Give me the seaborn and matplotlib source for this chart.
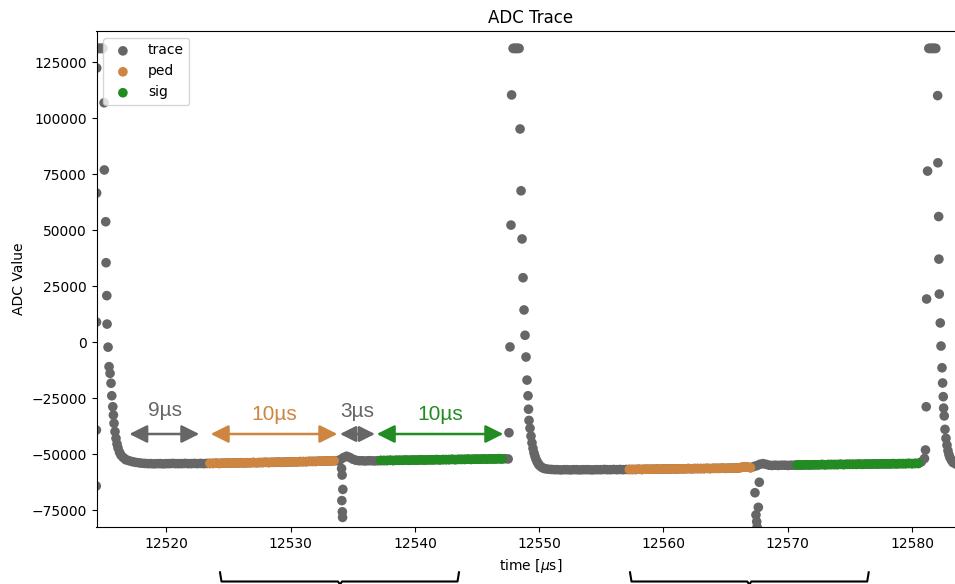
import numpy as np
import pandas as pd
import matplotlib
matplotlib.use("Agg")
import matplotlib.pyplot as plt
from matplotlib.lines import Line2D
import seaborn as sns

# ---------------- data (time in µs, ADC counts) ----------------
base_step = 0.25

pulse1_t = [12514.36, 12514.37, 12514.38, 12514.39, 12514.40,
            12514.50, 12514.58, 12514.66, 12514.74, 12514.82, 12514.90,
            12514.99, 12515.01, 12515.12, 12515.15, 12515.21, 12515.23, 12515.31,
            12515.39, 12515.47, 12515.55, 12515.61, 12515.69, 12515.74, 12515.79,
            12515.87, 12515.95, 12516.03, 12516.11, 12516.23, 12516.35, 12516.51, 12516.68]
pulse1_v = [-64300, -39300, 8900, 66500, 122300,
            131072, 131072, 131072, 131072, 131072, 131072,
            106800, 76800, 53700, 35400, 20700, 8000, -2300,
            -11000, -14000, -18400, -24000, -28900, -32600, -36300,
            -40000, -43000, -45500, -47300, -49200, -50500, -51500, -52200]

baseA_t0 = 12516.75
baseA_v = [-52600, -53000, -53400, -53700, -53900, -54100, -54200, -54300, -54300,
           -54400, -54300, -54300, -54400, -54300, -54300, -54200, -54300, -54300,
           -54300, -54200, -54300, -54300, -54200, -54300, -54200, -54300, -54200]

ped1_t0 = 12523.5
ped1_v = [-54200, -54200, -54100, -54200, -54100, -54100, -54000, -54100, -54000, -54000,
          -53900, -54000, -53900, -53900, -53800, -53900, -53800, -53800, -53700, -53800,
          -53700, -53700, -53600, -53700, -53600, -53600, -53500, -53500, -53500, -53400,
          -53400, -53400, -53300, -53300, -53300, -53200, -53200, -53100, -53100, -53100,
          -53000]

baseB_t0 = 12533.75
baseB_v = [-53000, -52500, -51600, -51000, -51500, -52300, -52800, -53000, -53000,
           -53100, -53000, -53000, -53100, -53000]

spike1_t = [12534.10, 12534.14, 12534.20, 12534.12, 12534.16, 12534.18]
spike1_v = [-56500, -59400, -65800, -70800, -75800, -78300]

sig1_t0 = 12537.25
sig1_v = [-52900, -52900, -52900, -52800, -52900, -52800, -52800, -52800, -52700, -52800,
          -52700, -52700, -52700, -52600, -52700, -52600, -52600, -52600, -52500, -52600,
          -52500, -52500, -52500, -52400, -52500, -52400, -52400, -52400, -52300, -52400,
          -52300, -52300, -52300, -52200, -52300, -52200, -52200, -52200, -52100, -52200]

baseC_t0 = 12547.25
baseC_v = [-52100, -52200]

pulse2_t = [12547.57, 12547.65, 12547.73, 12547.78,
            12547.90, 12547.98, 12548.06, 12548.14, 12548.22, 12548.30, 12548.38,
            12548.46, 12548.54, 12548.62, 12548.70, 12548.78, 12548.86, 12548.94,
            12549.02, 12549.10, 12549.14, 12549.18, 12549.26, 12549.34, 12549.42,
            12549.50, 12549.58, 12549.66, 12549.74, 12549.82, 12549.90, 12549.98,
            12550.06, 12550.22, 12550.38]
pulse2_v = [-40500, -2200, 52200, 110300,
            131072, 131072, 131072, 131072, 131072, 131072, 131072,
            95100, 67500, 46000, 28700, 14300, 3000, -6700,
            -17000, -24000, -30000, -35000, -38500, -42000, -45000,
            -47500, -49500, -51000, -52300, -53300, -54100, -54800,
            -55300, -56000, -56400]

baseD_t0 = 12550.5
baseD_v = [-56600, -56800, -56900, -57000, -57000, -57100, -57000, -57000, -57100,
           -57000, -57000, -57100, -57000, -57000, -57000, -57100, -57000, -57000,
           -57000, -56900, -57000, -57000, -56900, -57000, -56900, -57000, -56900]

ped2_t0 = 12557.25
ped2_v = [-56900, -56900, -56900, -56800, -56900, -56800, -56800, -56800, -56800, -56700,
          -56800, -56700, -56700, -56700, -56600, -56700, -56600, -56600, -56600, -56500,
          -56600, -56500, -56500, -56500, -56500, -56400, -56500, -56400, -56400, -56400,
          -56300, -56400, -56300, -56300, -56200, -56300, -56000, -55700, -55800, -56100]

baseE_t0 = 12567.25
baseE_v = [-55600, -55200, -54600, -54300, -54600, -55000, -55100, -55000, -55100,
           -55000, -55000, -55100, -55000, -55000]

spike2_t = [12567.36, 12567.44, 12567.50, 12567.53, 12567.63, 12567.71]
spike2_v = [-67300, -77200, -80200, -82600, -73800, -62600]

sig2_t0 = 12570.75
sig2_v = [-54900, -54900, -54900, -54800, -54900, -54800, -54800, -54800, -54700, -54800,
          -54700, -54700, -54700, -54700, -54600, -54700, -54600, -54600, -54600, -54600,
          -54500, -54600, -54500, -54500, -54500, -54400, -54500, -54400, -54400, -54400,
          -54400, -54300, -54400, -54300, -54300, -54300, -54200, -54300, -54200, -54200]

baseF_t0 = 12580.75
baseF_v = [-53500, -52000]

pulse3_t = [12581.08, 12581.14, 12581.17, 12581.25,
            12581.35, 12581.43, 12581.51, 12581.59, 12581.67, 12581.75, 12581.83, 12581.91,
            12582.06, 12582.08, 12582.14, 12582.16, 12582.19, 12582.27, 12582.33,
            12582.41, 12582.46, 12582.51, 12582.54, 12582.59, 12582.65, 12582.73,
            12582.81, 12582.89, 12582.97, 12583.05, 12583.17, 12583.29, 12583.53,
            12583.85, 12584.20]
pulse3_v = [-48200, -28900, 19200, 76300,
            131072, 131072, 131072, 131072, 131072, 131072, 131072, 131072,
            110000, 80000, 56000, 37000, 21400, 8500, -1800,
            -11500, -18300, -24400, -29500, -33000, -39000, -43000,
            -46000, -48500, -50300, -51600, -52800, -53800, -54500,
            -55000, -55200]

x_ticks = [12520, 12530, 12540, 12550, 12560, 12570, 12580]
y_ticks = [-75000, -50000, -25000, 0, 25000, 50000, 75000, 100000, 125000]

# annotation labels
gap_labels = ["9µs", "10µs", "3µs", "10µs"]

# ---------------- build frames ----------------
def seg(t0, vals):
    return t0 + base_step * np.arange(len(vals)), np.asarray(vals, float)

pieces = [(np.asarray(pulse1_t), np.asarray(pulse1_v, float)),
          seg(baseA_t0, baseA_v), seg(ped1_t0, ped1_v), seg(baseB_t0, baseB_v),
          (np.asarray(spike1_t), np.asarray(spike1_v, float)),
          seg(sig1_t0, sig1_v), seg(baseC_t0, baseC_v),
          (np.asarray(pulse2_t), np.asarray(pulse2_v, float)),
          seg(baseD_t0, baseD_v), seg(ped2_t0, ped2_v), seg(baseE_t0, baseE_v),
          (np.asarray(spike2_t), np.asarray(spike2_v, float)),
          seg(sig2_t0, sig2_v), seg(baseF_t0, baseF_v),
          (np.asarray(pulse3_t), np.asarray(pulse3_v, float))]
trace = pd.DataFrame({"t": np.concatenate([p[0] for p in pieces]),
                      "v": np.concatenate([p[1] for p in pieces])})
p1 = seg(ped1_t0, ped1_v); p2 = seg(ped2_t0, ped2_v)
s1 = seg(sig1_t0, sig1_v); s2 = seg(sig2_t0, sig2_v)
ped = pd.DataFrame({"t": np.concatenate([p1[0], p2[0]]), "v": np.concatenate([p1[1], p2[1]])})
sig = pd.DataFrame({"t": np.concatenate([s1[0], s2[0]]), "v": np.concatenate([s1[1], s2[1]])})

# ---------------- plot ----------------
c_trace, c_ped, c_sig = "#666666", "peru", "forestgreen"

fig = plt.figure(figsize=(9.55, 5.84), dpi=100)
ax = fig.add_axes([96.5 / 955, 1 - 527.3 / 584, 869 / 955, (527.3 - 31) / 584])

kw = dict(s=48, linewidth=0, edgecolor="none", ax=ax)
sns.scatterplot(data=trace, x="t", y="v", color=c_trace, label="trace", **kw)
sns.scatterplot(data=ped, x="t", y="v", color=c_ped, label="ped", **kw)
sns.scatterplot(data=sig, x="t", y="v", color=c_sig, label="sig", **kw)

ax.set_xlim(12514.38, 12584.30)
ax.set_ylim(-82720, 138840)
ax.set_xticks(x_ticks)
ax.set_yticks(y_ticks)
ax.set_title("ADC Trace")
ax.set_xlabel(r"time [$\mu$s]")
ax.set_ylabel("ADC Value")
ax.legend(loc="upper left")

# gap annotations (double arrows + labels)
arrows = [(12517.02, 12522.65, c_trace, 27), (12523.57, 12533.76, c_ped, 27),
          (12533.97, 12536.79, c_trace, 24), (12536.93, 12547.11, c_sig, 27)]
texts = [(12519.86, -33040), (12528.68, -34820), (12535.38, -33300), (12542.0, -34800)]
y_arrow = -41070
for (x0, x1, c, ms), (tx, ty), lab in zip(arrows, texts, gap_labels):
    ax.annotate("", xy=(x1, y_arrow), xytext=(x0, y_arrow),
                arrowprops=dict(arrowstyle="<|-|>", color=c, lw=1.8,
                                mutation_scale=ms, shrinkA=0, shrinkB=0))
    ax.text(tx, ty, lab, color=c, fontsize=15, ha="center", va="baseline",
            family=["Liberation Sans", "DejaVu Sans"])

# braces below the axis (figure pixel positions)
W, H = 955.0, 584.0
for xl, xm, xr in [(220, 340, 459), (630, 749.3, 868.7)]:
    xs = [xl, xl + 1.5, xm - 2, xm, xm + 2, xr - 1.5, xr]
    ys = [572.3, 581.5, 581.5, 584.5, 581.5, 581.5, 572.3]
    fig.add_artist(Line2D([x / W for x in xs], [1 - y / H for y in ys],
                          transform=fig.transFigure, color="black", lw=1.5,
                          solid_joinstyle="round"))

fig.savefig("out.png", dpi=100)
